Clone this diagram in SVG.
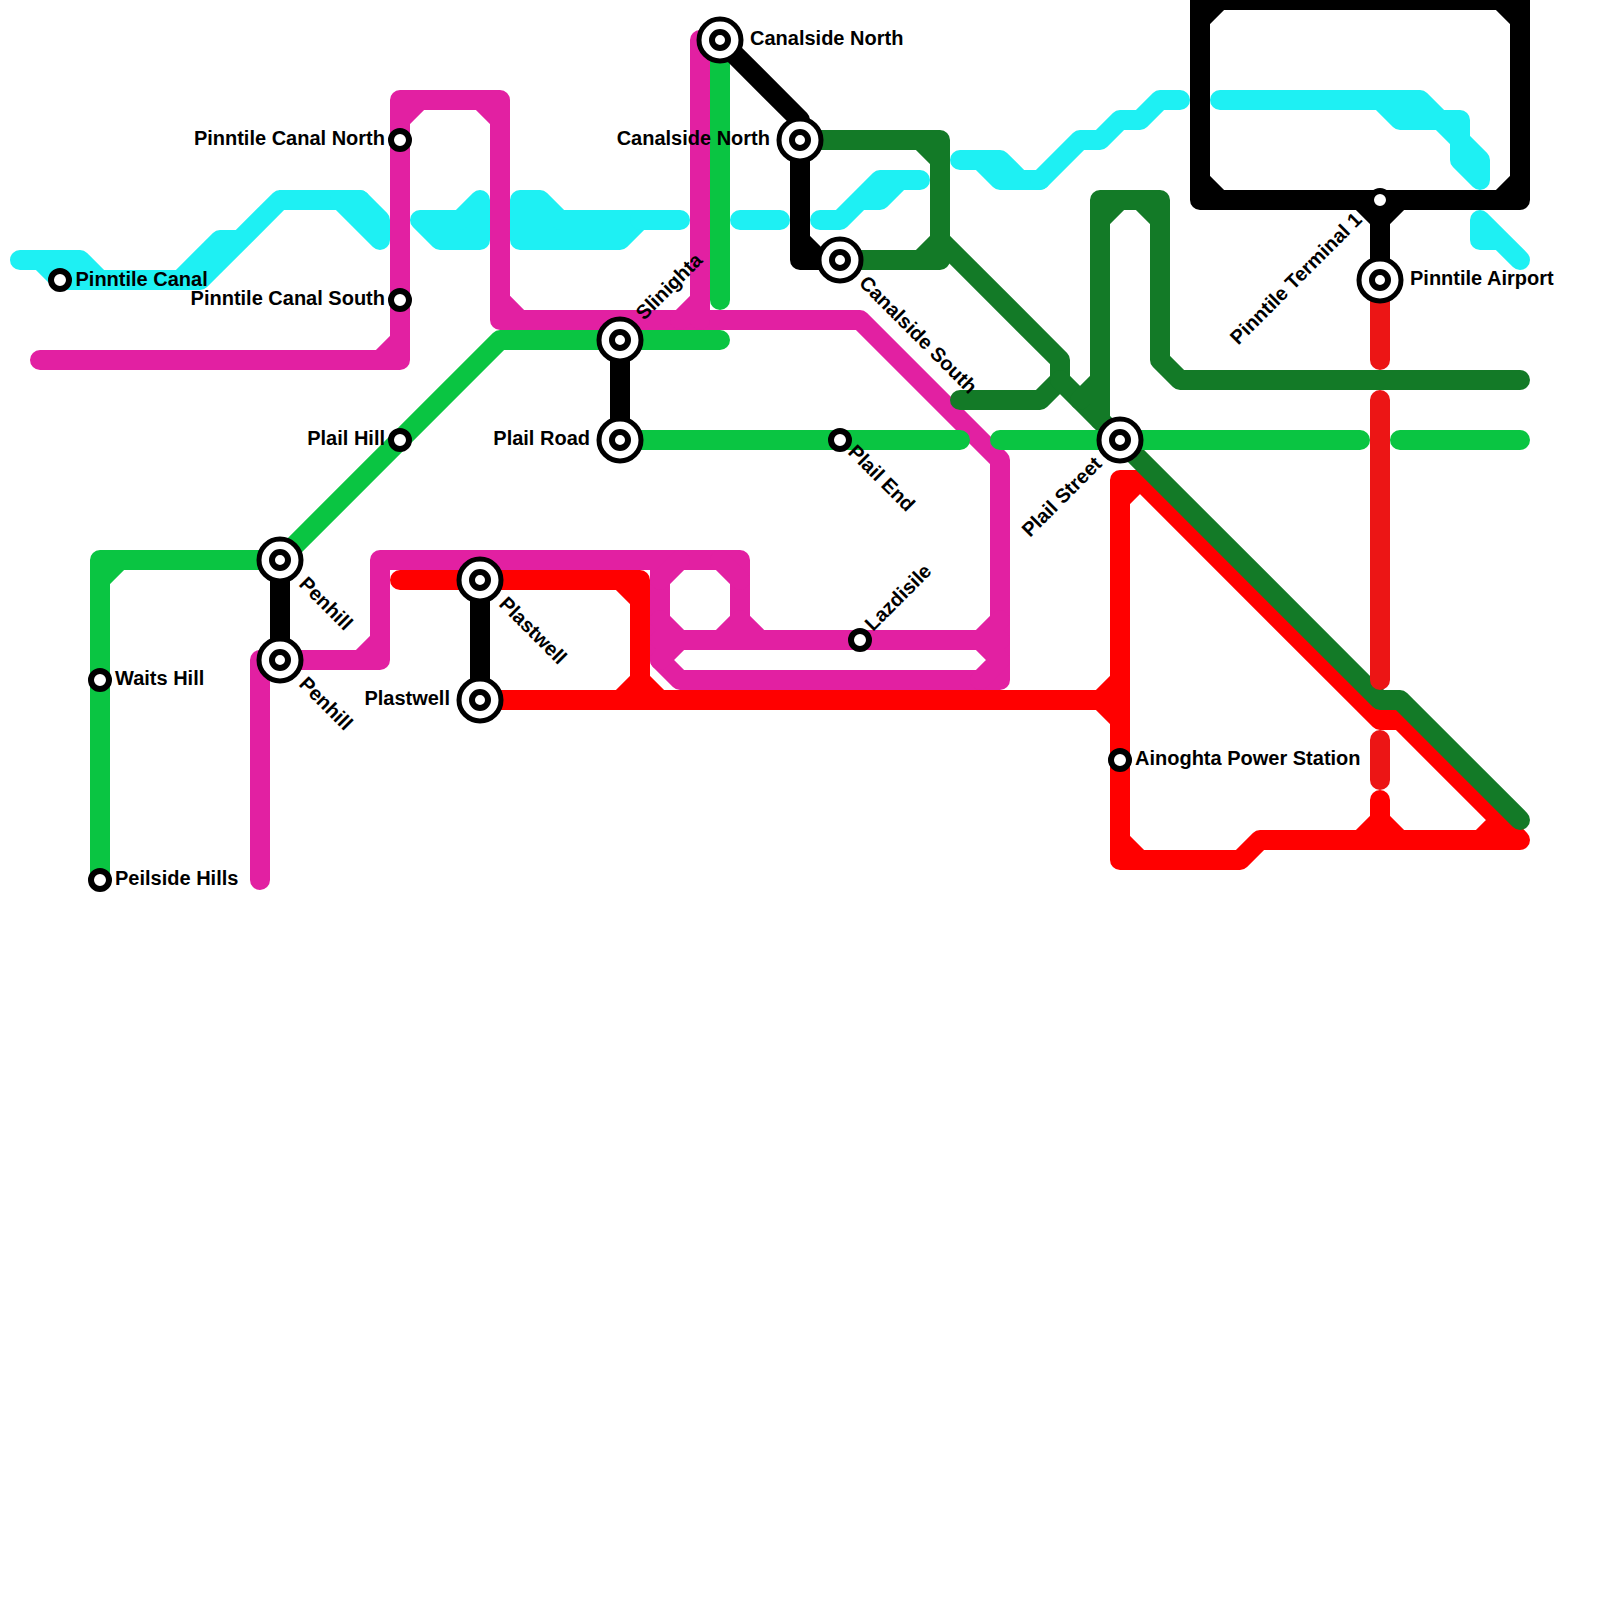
<svg xmlns="http://www.w3.org/2000/svg" width="1600" height="1600" viewBox="0 0 1600 1600">
<style>
.l{fill:none;stroke-width:20;stroke-linecap:round;stroke-linejoin:round}
.f{stroke-width:20;stroke-linecap:round;stroke-linejoin:round}
.cy{stroke:#1ef0f3}.mg{stroke:#e220a2}.rd{stroke:#ff0000}.r2{stroke:#ec1515}.dg{stroke:#137a27}.bg{stroke:#0ac542}.bk{stroke:#000}
.f.cy{fill:#1ef0f3}
.ro{fill:#fff;stroke:#000;stroke-width:6}
.rb{fill:#fff;stroke:#000;stroke-width:5}
.ri{fill:#fff;stroke:#000;stroke-width:6}
text{font-family:"Liberation Sans",Arial,sans-serif;font-weight:bold;font-size:20px;fill:#000}
.e{text-anchor:end}
</style>
<rect width="1600" height="1600" fill="#fff"/>
<g id="connectors">
<g id="line-cyan">
<path class="f cy" d="M20 260H80L100 280H60L40 260Z"/>
<path class="l cy" d="M60 280H200L280 200H360M180 280L220 240H240L280 200"/>
<path class="f cy" d="M340 200H360L380 220V240Z"/>
<path class="f cy" d="M420 220H460L480 200V240H440Z"/>
<path class="f cy" d="M520 200H540L560 220H640L620 240H520Z"/>
<path class="l cy" d="M640 220H680M740 220H780"/>
<path class="f cy" d="M820 220H840L880 180H920H900L880 200H860L840 220Z"/>
<path class="f cy" d="M960 160H1000L1020 180H1040H1000L980 160Z"/>
<path class="l cy" d="M1040 180L1080 140H1100L1120 120H1140L1160 100H1180"/>
<path class="f cy" d="M1220 100H1420L1440 120H1460V140L1480 160V180L1460 160V140L1440 120H1400L1380 100Z"/>
<path class="f cy" d="M1480 220L1520 260L1500 240H1480Z"/>
</g>
<g id="line-magenta">
<path class="l mg" d="M40 360H400V100H500V320H860L1000 460V680H680L660 660V560M380 360L400 340M400 120L420 100M480 100L500 120M500 300L520 320"/>
<path class="l mg" d="M700 40V320M680 320L700 300"/>
<path class="l mg" d="M260 880V660H380V560H740V640M360 660L380 640"/>
<path class="l mg" d="M660 640H1000M980 640L1000 620M980 640L1000 660L980 680M660 580L680 560M720 560L740 580M660 620L680 640M720 640L740 620M740 620L760 640M680 640L660 660"/>
</g>
<g id="line-red">
<path class="l rd" d="M400 580H640V700M480 700H1120M620 580L640 600M620 700L640 680L660 700M1100 700L1120 680M1100 700L1120 720"/>
<path class="l rd" d="M1380 720L1140 480H1120V860H1240L1260 840H1520L1400 720H1380M1120 500L1140 480M1120 840L1140 860M1480 840L1500 820"/>
<path class="l rd" d="M1380 800V840M1360 840L1380 820L1400 840"/>
</g>
<g id="line-darkgreen">
<path class="l dg" d="M800 140H940V260H840M920 140L940 160M920 260L940 240M940 240L1060 360V380L1040 400H960"/>
<path class="l dg" d="M1060 380L1380 700H1400L1520 820"/>
<path class="l dg" d="M1100 420V200H1160V360L1180 380H1520M1080 400L1100 380M1100 220L1120 200M1140 200L1160 220"/>
</g>
<g id="line-green">
<path class="l bg" d="M100 880V560H280L500 340H720M100 580L120 560"/>
<path class="l bg" d="M720 40V300"/>
<path class="l bg" d="M620 440H960M1000 440H1360M1400 440H1520"/>
</g>
<g id="line-red2">
<path class="l r2" d="M1380 280V360M1380 400V680M1380 740V780"/>
</g>
<g id="line-black">
<path class="l bk" d="M720 40L800 120V260H840M800 240L820 260"/>
<path class="l bk" d="M620 340V440M280 560V660M480 580V700"/>
<path class="l bk" d="M1200 200H1520V0H1200ZM1200 20L1220 0M1500 0L1520 20M1200 180L1220 200M1500 200L1520 180"/>
<path class="l bk" d="M1380 200V280M1360 200L1380 220L1400 200"/>
</g>
</g>
<g id="st-pinntile-canal"><circle class="ro" cx="60" cy="280" r="9"/><text x="75.500" y="286">Pinntile Canal</text></g>
<g id="st-pinntile-canal-north"><circle class="ro" cx="400" cy="140" r="9"/><text class="e" x="385" y="145">Pinntile Canal North</text></g>
<g id="st-pinntile-canal-south"><circle class="ro" cx="400" cy="300" r="9"/><text class="e" x="385" y="305">Pinntile Canal South</text></g>
<g id="st-plail-hill"><circle class="ro" cx="400" cy="440" r="9"/><text class="e" x="385" y="445">Plail Hill</text></g>
<g id="st-waits-hill"><circle class="ro" cx="100" cy="680" r="9"/><text x="115" y="685">Waits Hill</text></g>
<g id="st-peilside-hills"><circle class="ro" cx="100" cy="880" r="9"/><text x="115" y="885">Peilside Hills</text></g>
<g id="st-penhill-1"><circle class="rb" cx="280" cy="560" r="21"/><circle class="ri" cx="280" cy="560" r="8"/><text transform="translate(298 585) rotate(45)">Penhill</text></g>
<g id="st-penhill-2"><circle class="rb" cx="280" cy="660" r="21"/><circle class="ri" cx="280" cy="660" r="8"/><text transform="translate(298 685) rotate(45)">Penhill</text></g>
<g id="st-plastwell-1"><circle class="rb" cx="480" cy="580" r="21"/><circle class="ri" cx="480" cy="580" r="8"/><text transform="translate(498 605) rotate(45)">Plastwell</text></g>
<g id="st-plastwell-2"><circle class="rb" cx="480" cy="700" r="21"/><circle class="ri" cx="480" cy="700" r="8"/><text class="e" x="450" y="705">Plastwell</text></g>
<g id="st-slinighta"><circle class="rb" cx="620" cy="340" r="21"/><circle class="ri" cx="620" cy="340" r="8"/><text transform="translate(644 321) rotate(-45)">Slinighta</text></g>
<g id="st-plail-road"><circle class="rb" cx="620" cy="440" r="21"/><circle class="ri" cx="620" cy="440" r="8"/><text class="e" x="590" y="445">Plail Road</text></g>
<g id="st-canalside-north-1"><circle class="rb" cx="720" cy="40" r="21"/><circle class="ri" cx="720" cy="40" r="8"/><text x="750" y="45">Canalside North</text></g>
<g id="st-canalside-north-2"><circle class="rb" cx="800" cy="140" r="21"/><circle class="ri" cx="800" cy="140" r="8"/><text class="e" x="770" y="145">Canalside North</text></g>
<g id="st-canalside-south"><circle class="rb" cx="840" cy="260" r="21"/><circle class="ri" cx="840" cy="260" r="8"/><text transform="translate(858 284) rotate(45)">Canalside South</text></g>
<g id="st-plail-end"><circle class="ro" cx="840" cy="440" r="9"/><text transform="translate(847 453) rotate(45)">Plail End</text></g>
<g id="st-lazdisile"><circle class="ro" cx="860" cy="640" r="9"/><text transform="translate(873 632) rotate(-45)">Lazdisile</text></g>
<g id="st-plail-street"><circle class="rb" cx="1120" cy="440" r="21"/><circle class="ri" cx="1120" cy="440" r="8"/><text class="e" transform="translate(1103 465) rotate(-45)">Plail Street</text></g>
<g id="st-ainoghta"><circle class="ro" cx="1120" cy="760" r="9"/><text x="1135" y="765">Ainoghta Power Station</text></g>
<g id="st-pinntile-terminal-1"><circle class="ro" cx="1380" cy="200" r="9"/><text class="e" transform="translate(1363 221) rotate(-45)">Pinntile Terminal 1</text></g>
<g id="st-pinntile-airport"><circle class="rb" cx="1380" cy="280" r="21"/><circle class="ri" cx="1380" cy="280" r="8"/><text x="1410" y="285">Pinntile Airport</text></g>
</svg>
